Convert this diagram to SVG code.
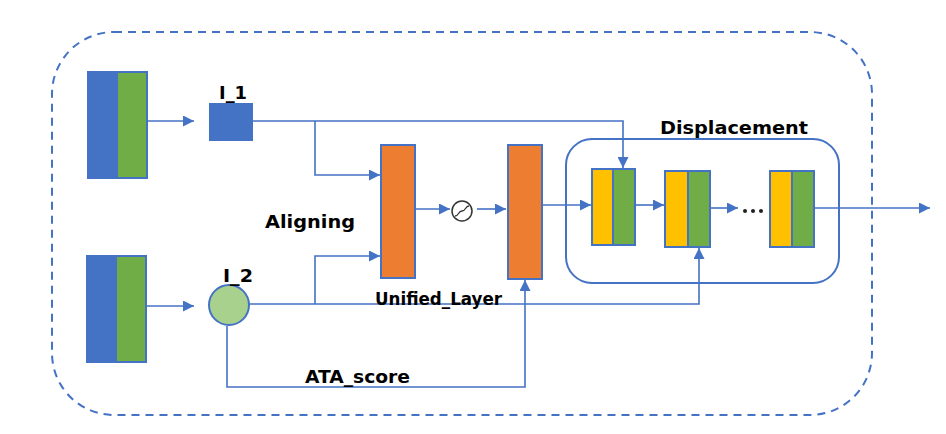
<svg xmlns="http://www.w3.org/2000/svg" width="946" height="434" viewBox="0 0 946 434">
<style>
.ln{fill:none;stroke:#4472C4;stroke-width:1.6}
.lbl{font-family:"DejaVu Sans","Liberation Sans",Arial,sans-serif;font-weight:bold;font-size:18px;fill:#000}
.b{fill:#4472C4;stroke:#4472C4;stroke-width:2}
.g{fill:#70AD47;stroke:#4472C4;stroke-width:2}
.o{fill:#ED7D31;stroke:#4472C4;stroke-width:2}
.y{fill:#FFC000;stroke:#4472C4;stroke-width:2}
</style>
<defs>
<marker id="ah" viewBox="0 0 10 10" refX="10" refY="5" markerWidth="11" markerHeight="11" markerUnits="userSpaceOnUse" orient="auto">
<path d="M0,0 L10,5 L0,10 z" fill="#4472C4"/>
</marker>
</defs>
<rect x="52" y="32" width="820" height="383" rx="62" ry="62" fill="none" stroke="#4472C4" stroke-width="2" stroke-dasharray="8,6"/>
<g id="connectors">
<path class="ln" d="M148,121 H194" marker-end="url(#ah)"/>
<path class="ln" d="M147,306 H194" marker-end="url(#ah)"/>
<path class="ln" d="M252,121 H623 V168" marker-end="url(#ah)"/>
<path class="ln" d="M315,121 V175 H380" marker-end="url(#ah)"/>
<path class="ln" d="M249,304 H699 V248" marker-end="url(#ah)"/>
<path class="ln" d="M315,304 V256 H380" marker-end="url(#ah)"/>
<path class="ln" d="M227,326 V387 H525 V280" marker-end="url(#ah)"/>
<path class="ln" d="M415,209 H450" marker-end="url(#ah)"/>
<path class="ln" d="M477,209 H506" marker-end="url(#ah)"/>
<path class="ln" d="M542,205 H591" marker-end="url(#ah)"/>
<path class="ln" d="M635,205 H664" marker-end="url(#ah)"/>
<path class="ln" d="M710,208 H738" marker-end="url(#ah)"/>
<path class="ln" d="M814,208 H930" marker-end="url(#ah)"/>
</g>
<g id="input1">
<rect class="b" x="88" y="72" width="59" height="106"/>
<rect class="g" x="117" y="72" width="30" height="106"/>
</g>
<g id="input2">
<rect class="b" x="87" y="256" width="59" height="106"/>
<rect class="g" x="116" y="256" width="30" height="106"/>
</g>
<g id="I_1">
<rect class="b" x="210" y="104" width="42" height="36"/>
<text class="lbl" x="219" y="99" font-size="19" textLength="28" lengthAdjust="spacingAndGlyphs">I_1</text>
</g>
<g id="I_2">
<circle cx="229" cy="305" r="20" fill="#A9D18E" stroke="#4472C4" stroke-width="2"/>
<text class="lbl" x="223" y="282" font-size="19" textLength="30" lengthAdjust="spacingAndGlyphs">I_2</text>
</g>
<g id="unified1">
<rect class="o" x="381" y="145" width="34" height="133"/>
</g>
<g id="sigmoid">
<circle cx="462" cy="211" r="10" fill="#fff" stroke="#333" stroke-width="1.5"/>
<path d="M455,216 C459,216 458,211 462,211 C466,211 465,206 469,206" fill="none" stroke="#333" stroke-width="1.3"/>
</g>
<g id="unified2">
<rect class="o" x="508" y="145" width="34" height="134"/>
</g>
<text class="lbl" x="265" y="228" textLength="90" lengthAdjust="spacingAndGlyphs">Aligning</text>
<text class="lbl" x="375" y="305" textLength="127" lengthAdjust="spacingAndGlyphs">Unified_Layer</text>
<text class="lbl" x="305" y="383" textLength="105" lengthAdjust="spacingAndGlyphs">ATA_score</text>
<g id="displacement">
<rect x="566" y="139" width="273" height="144" rx="26" ry="26" fill="none" stroke="#4472C4" stroke-width="2"/>
<text class="lbl" x="660" y="134" textLength="148" lengthAdjust="spacingAndGlyphs">Displacement</text>
</g>
<g id="d1">
<rect class="y" x="592" y="169" width="21" height="76"/>
<rect class="g" x="613" y="169" width="22" height="76"/>
</g>
<g id="d2">
<rect class="y" x="665" y="171" width="23" height="76"/>
<rect class="g" x="688" y="171" width="22" height="76"/>
</g>
<g id="dots">
<circle cx="745" cy="211" r="2" fill="#222"/>
<circle cx="753" cy="211" r="2" fill="#222"/>
<circle cx="761" cy="211" r="2" fill="#222"/>
</g>
<g id="d3">
<rect class="y" x="770" y="171" width="22" height="76"/>
<rect class="g" x="792" y="171" width="22" height="76"/>
</g>
</svg>
